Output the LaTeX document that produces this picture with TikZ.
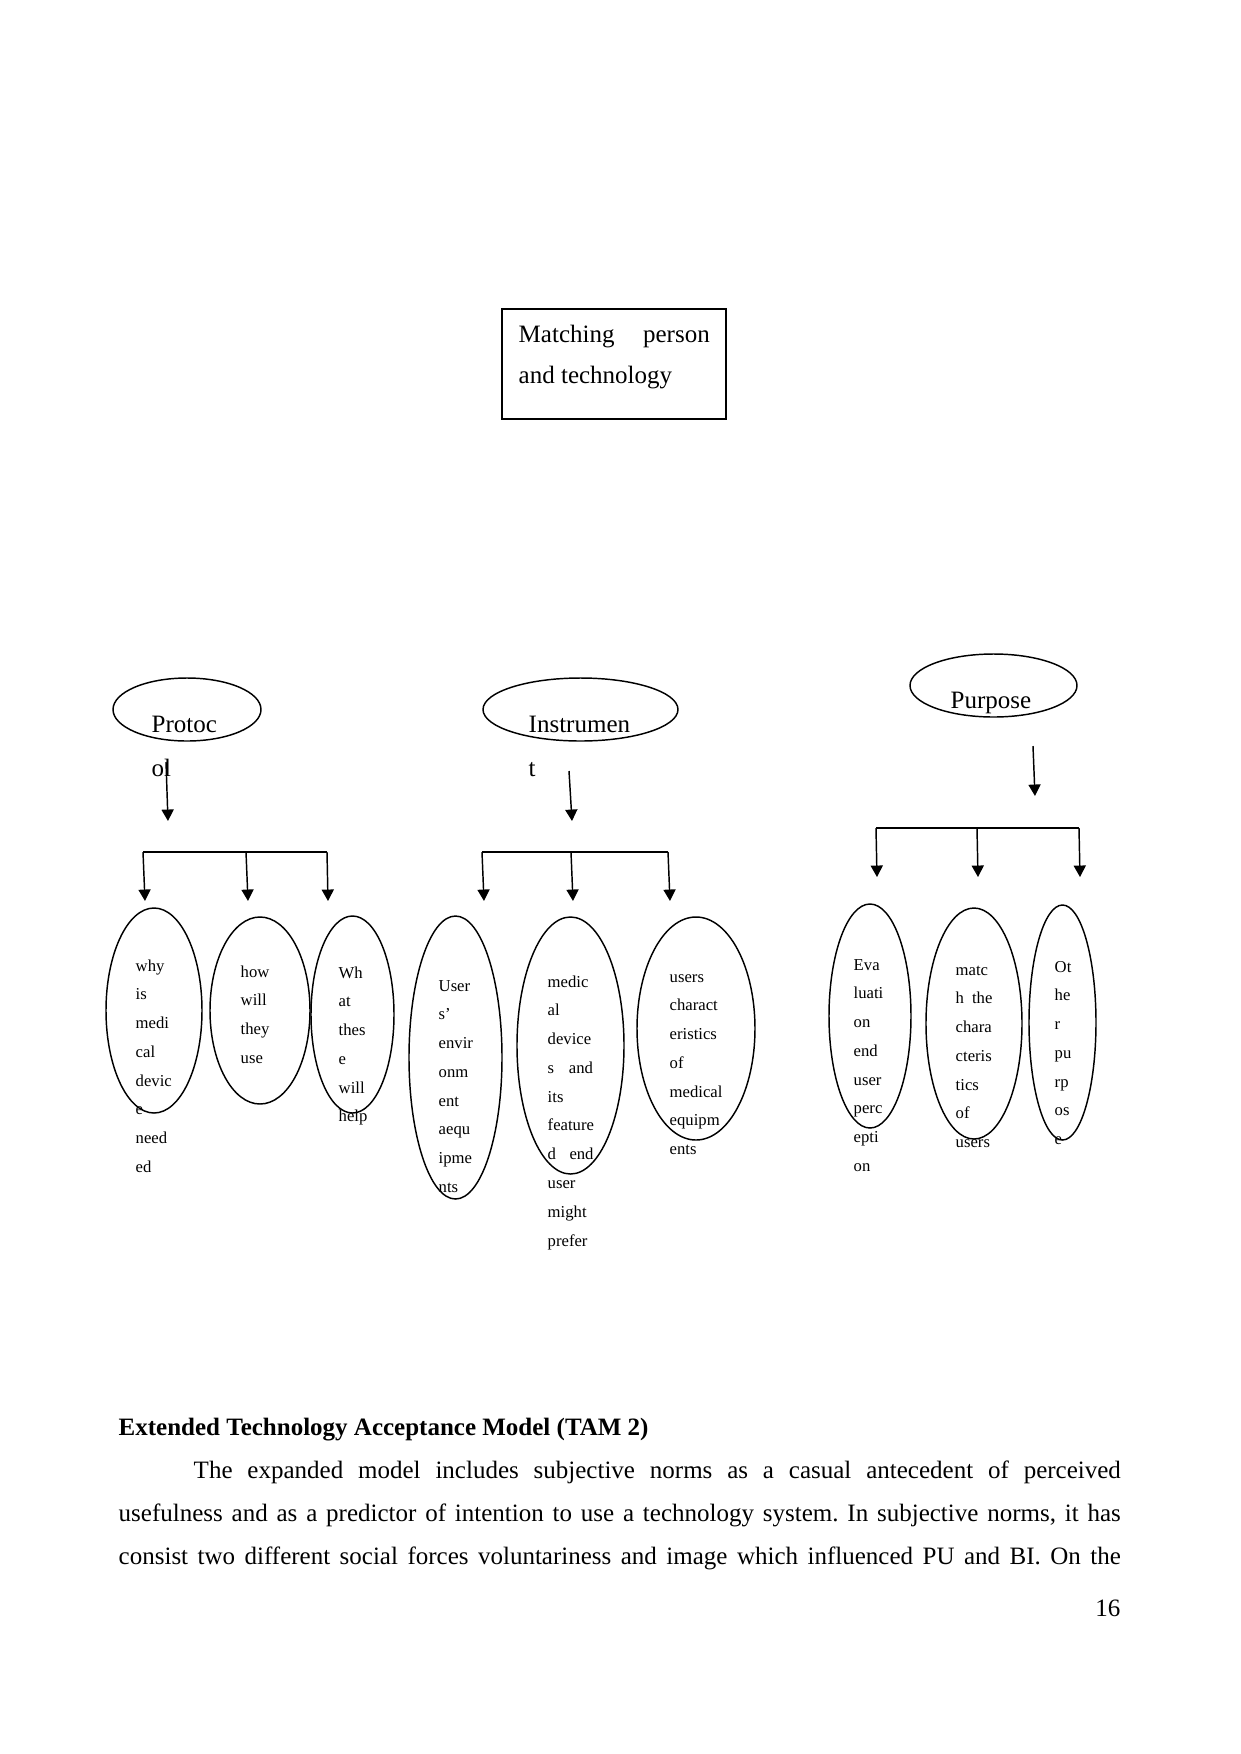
\documentclass[tikz,border=0pt]{standalone}
\usepackage{fontspec}
\setmainfont{Liberation Serif}
\usetikzlibrary{shapes.geometric,arrows.meta}
\newcommand{\stk}[1]{\begin{tabular}[t]{@{}l@{}}#1\end{tabular}}
\frenchspacing
\begin{document}
\begin{tikzpicture}[x=0.48pt,y=-0.48pt,
  line width=0.7pt,
  ell/.style 2 args={ellipse, draw, minimum width=#1*0.48pt, minimum height=#2*0.48pt, inner sep=0pt},
  lbl/.style={anchor=base west, inner sep=0pt, font=\fontsize{12}{21.12}\selectfont},
  sml/.style={anchor=base west, inner sep=0pt, font=\fontsize{8}{13.82}\selectfont},
  body/.style={anchor=base west, inner sep=0pt, font=\fontsize{12}{14}\selectfont},
  arr/.style={-{Triangle[length=5.5pt,width=5.8pt]}},
  ]
\useasboundingbox (0,0) rectangle (1241,1754);

% top box
\node[draw, line width=0.5pt, minimum width=224*0.48pt, minimum height=110*0.48pt, inner sep=0pt] (box) at (614,364) {};
\node[lbl, font=\fontsize{12}{19.9}\selectfont] (boxt) at (518,342) {\stk{\makebox[91.7pt][s]{Matching person}\\and technology}};

% main ellipses
\node[ell={148}{63}] (prot) at (187,709.5) {};
\node[ell={195}{63}] (inst) at (580.5,709.5) {};
\node[ell={167}{63}] (purp) at (993.5,685.5) {};
\node[lbl] (tprot) at (151,732) {\stk{Protoc\\ol}};
\node[lbl] (tinst) at (528,732) {\stk{Instrumen\\t}};
\node[lbl] (tpurp) at (950,708) {Purpose};

% arrows under main ellipses
\coordinate (pa1) at (166,762); \coordinate (pa2) at (168,821);
\coordinate (ia1) at (569,771); \coordinate (ia2) at (572,821);
\coordinate (ua1) at (1033,746); \coordinate (ua2) at (1035,796);
\draw[arr] (pa1) -- (pa2);
\draw[arr] (ia1) -- (ia2);
\draw[arr] (ua1) -- (ua2);

% brackets
\coordinate (pb1) at (143,852); \coordinate (pb2) at (246,852); \coordinate (pb3) at (327,852);
\coordinate (pt1) at (145,901); \coordinate (pt2) at (248,901); \coordinate (pt3) at (328,901);
\draw (pb1) -- (pb3);
\draw[arr] (pb1) -- (pt1);
\draw[arr] (pb2) -- (pt2);
\draw[arr] (pb3) -- (pt3);

\coordinate (ib1) at (482,852); \coordinate (ib2) at (571,852); \coordinate (ib3) at (668,852);
\coordinate (it1) at (484,901); \coordinate (it2) at (573,901); \coordinate (it3) at (670,901);
\draw (ib1) -- (ib3);
\draw[arr] (ib1) -- (it1);
\draw[arr] (ib2) -- (it2);
\draw[arr] (ib3) -- (it3);

\coordinate (ub1) at (876,828); \coordinate (ub2) at (977,828); \coordinate (ub3) at (1079,828);
\coordinate (ut1) at (877,877); \coordinate (ut2) at (978,877); \coordinate (ut3) at (1080,877);
\draw (ub1) -- (ub3);
\draw[arr] (ub1) -- (ut1);
\draw[arr] (ub2) -- (ut2);
\draw[arr] (ub3) -- (ut3);

% small ellipses
\node[ell={96}{205}] (e1) at (154,1010.5) {};
\node[ell={100}{187}] (e2) at (260,1010.5) {};
\node[ell={83}{197}] (e3) at (352.5,1014.5) {};
\node[ell={93}{283}] (e4) at (455.5,1057.5) {};
\node[ell={107}{257}] (e5) at (570.5,1045.5) {};
\node[ell={118}{223}] (e6) at (696,1028.5) {};
\node[ell={82}{224}] (e7) at (870,1016) {};
\node[ell={96}{231}] (e8) at (974,1023.5) {};
\node[ell={67}{235}] (e9) at (1062.5,1022.5) {};

\node[sml] (t1) at (135,971) {\stk{why\\is\\medi\\cal\\devic\\e\\need\\ed}};
\node[sml] (t2) at (240,977) {\stk{how\\will\\they\\use}};
\node[sml] (t3) at (338,978) {\stk{Wh\\at\\thes\\e\\will\\help}};
\node[sml] (t4) at (438,991) {\stk{User\\s’\\envir\\onm\\ent\\aequ\\ipme\\nts}};
\node[sml] (t5) at (547,987) {\stk{medic\\al\\device\\\makebox[21.7pt][s]{s and}\\its\\feature\\\makebox[22pt][s]{d end}\\user\\might\\prefer}};
\node[sml] (t6) at (669,982) {\stk{users\\charact\\eristics\\of\\medical\\equipm\\ents}};
\node[sml] (t7) at (853,970) {\stk{Eva\\luati\\on\\end\\user\\perc\\epti\\on}};
\node[sml] (t8) at (955,975) {\stk{matc\\\makebox[17.6pt][s]{h the}\\chara\\cteris\\tics\\of\\users}};
\node[sml] (t9) at (1054,972) {\stk{Ot\\he\\r\\pu\\rp\\os\\e}};

% body text
\node[body, font=\fontsize{12}{14}\selectfont\bfseries] (title) at (118,1435) {Extended Technology Acceptance Model (TAM 2)};
\node[body] (l1) at (193,1478) {\makebox[445pt][s]{The expanded model includes subjective norms as a casual antecedent of perceived}};
\node[body] (l2) at (118,1521) {\makebox[481pt][s]{usefulness and as a predictor of intention to use a technology system. In subjective norms, it has}};
\node[body] (l3) at (118,1564) {\makebox[481pt][s]{consist two different social forces voluntariness and image which influenced PU and BI. On the}};
\node[body, anchor=base east] (pg) at (1121,1616) {16};
\end{tikzpicture}
\end{document}
